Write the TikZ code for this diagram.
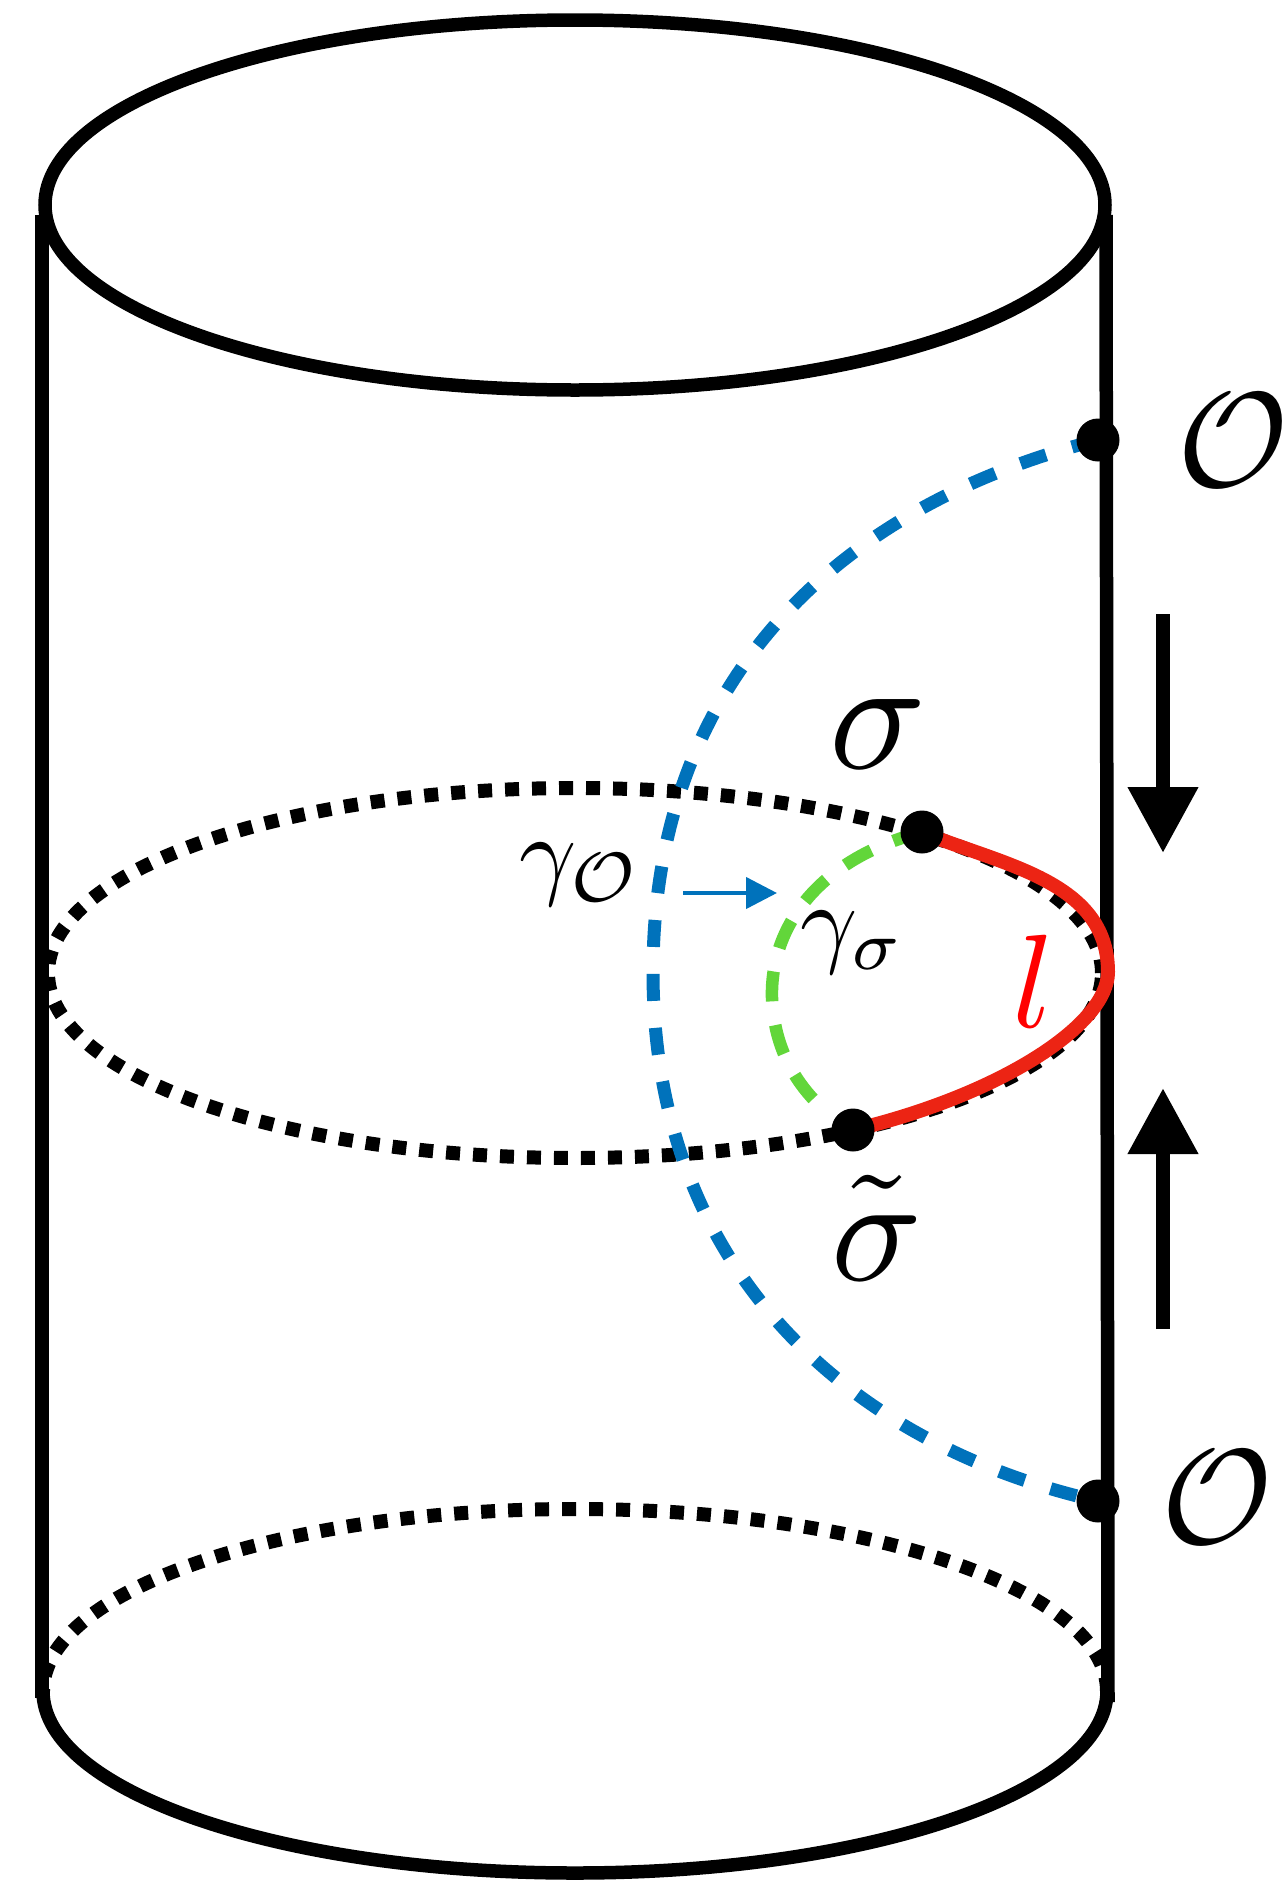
\documentclass[tikz,border=0pt]{standalone}
\usepackage{graphicx}
\usetikzlibrary{arrows.meta}
\definecolor{cblue}{RGB}{0,114,187}
\definecolor{cgreen}{RGB}{98,214,58}
\definecolor{cred}{RGB}{236,36,20}
\begin{document}
\begin{tikzpicture}[x=1pt,y=-1pt,
  solidline/.style={line width=13.5pt,black},
  dotline/.style={line width=14pt,black,dash pattern=on 14pt off 13pt},
  blueline/.style={line width=13pt,cblue,dash pattern=on 27pt off 27pt},
  greenline/.style={line width=12.5pt,cgreen,dash pattern=on 30pt off 24pt},
  redline/.style={line width=14pt,cred},
  pt/.style={circle,fill=black,inner sep=0pt,minimum size=43pt},
  lab/.style={inner sep=0pt}]
\useasboundingbox (0,0) rectangle (1286,1885);
% cylinder
\draw[solidline] (575,205) ellipse [x radius=530pt, y radius=185pt];
\draw[solidline] (42,215) -- (42,1698);
\draw[solidline] (1106,215) -- (1108,1702);
\draw[dotline] (1107,1691) arc[start angle=0, end angle=180, x radius=532pt, y radius=182pt];
\draw[solidline] (43,1691) arc[start angle=180, end angle=360, x radius=532pt, y radius=182pt];
% middle circle
\draw[dotline] (575,973) ellipse [x radius=527pt, y radius=185pt];
% points
\coordinate (Otc) at (1098,440);
\coordinate (Obc) at (1098,1501);
\coordinate (sc) at (922,832);
\coordinate (stc) at (853,1130);
\coordinate (gend) at (820,1106);
% geodesics
\draw[blueline] (Otc) .. controls (840,505) and (653,680) .. (653,972)
  .. controls (653,1270) and (850,1445) .. (Obc);
\draw[greenline] (sc) .. controls (815,860) and (770,930) .. (772,998)
  .. controls (774,1045) and (793,1080) .. (gend);
\draw[redline] (sc) .. controls (1000,865) and (1108,880) .. (1108,972)
  .. controls (1108,1025) and (1000,1095) .. (stc);
\node[pt] (Ot) at (Otc) {};
\node[pt] (Ob) at (Obc) {};
\node[pt] (s) at (sc) {};
\node[pt] (st) at (stc) {};
% labels
\node[lab,scale=13.5] (OtL) at (1233,440) {$\mathcal{O}$};
\node[lab,scale=13.5] (ObL) at (1217,1497) {$\mathcal{O}$};
\node[lab,scale=16,anchor=base] (sL) at (878,768) {$\sigma$};
\node[lab,scale=15,anchor=base] (stL) at (877,1280)
  {$\tilde{\raisebox{0pt}[4.6pt][0pt]{$\sigma$}}$};
\node[lab,scale=10,anchor=base west] (gO) at (517,886) {$\gamma_{\mathcal{O}}$};
\node[lab,scale=10,anchor=base west] (gs) at (798,954) {$\gamma_\sigma$};
\node[lab,scale=13.3,anchor=base,text=red] (lL) at (1034,1027) {$l$};
% arrows
\coordinate (a1) at (683,893);
\coordinate (a2) at (777,893);
\draw[cblue,line width=4.3pt,-{Triangle[length=31pt,width=31pt]}] (a1) -- (a2);
\coordinate (d1) at (1163,614);
\coordinate (d2) at (1163,853);
\coordinate (u1) at (1163,1329);
\coordinate (u2) at (1163,1088);
\draw[line width=14pt,-{Triangle[length=66pt,width=67pt]}] (d1) -- (d2);
\draw[line width=14pt,-{Triangle[length=66pt,width=67pt]}] (u1) -- (u2);
\end{tikzpicture}
\end{document}
